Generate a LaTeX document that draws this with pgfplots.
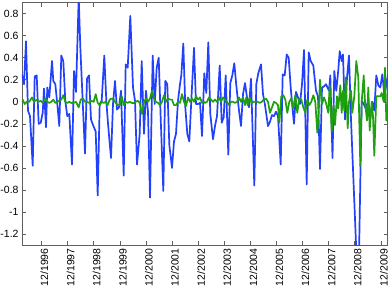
\documentclass[border=0pt]{standalone}
\usepackage{fontspec}
\setmainfont{Liberation Sans}
\usepackage{pgfplots}
\pgfplotsset{compat=1.18}
\definecolor{mblue}{RGB}{35,65,250}
\definecolor{mgreen}{RGB}{30,160,15}
\definecolor{axgray}{RGB}{95,95,95}
\begin{document}
\begin{tikzpicture}
\begin{axis}[name=ax, scale only axis, width=365.7bp, height=242.3bp,
  xmin=22, xmax=387.7, ymin=-1.3, ymax=0.9,
  axis line style={axgray, line width=0.8bp},
  tick style={axgray, line width=0.6bp},
  tick align=inside, major tick length=4bp,
  xtick={41.5,67.6,93.7,119.8,145.9,172.0,198.1,224.2,250.3,276.4,302.5,328.6,354.7,380.8},
  xticklabels={12/1996,12/1997,12/1998,12/1999,12/2000,12/2001,12/2002,12/2003,12/2004,12/2005,12/2006,12/2007,12/2008,12/2009},
  xticklabel style={rotate=90, anchor=east, yshift=-3bp},
  ytick={-1.2,-1,-0.8,-0.6,-0.4,-0.2,0,0.2,0.4,0.6,0.8},
  yticklabels={-1.2,-1,-0.8,-0.6,-0.4,-0.2,0,0.2,0.4,0.6,0.8},
  tick label style={font=\fontsize{10.5}{12}\selectfont},
  /pgf/number format/assume math mode=true,
]
\addplot[mblue, line width=1.7bp, line join=round, mark=none] coordinates {
(22,0.25)(24,0.16)(26,0.55)(28,-0.08)(30,-0.13)(32.7,-0.58)(34.7,0.23)(36.7,0.24)(38.7,-0.2)(40.7,-0.19)
(42.7,-0.1)(44,0.12)(46,-0.23)(47.3,0.13)(49.3,0.04)(52,0.37)(53.3,0.19)(55.3,0.16)(57.3,-0.02)(59.3,-0.22)
(61.3,0.42)(63.3,0.37)(65.3,0.01)(67.3,-0.13)(69.3,-0.11)(72,-0.57)(74,0.28)(76,0.09)(78.7,0.95)(80.3,0.5)
(85,-0.47)(87,0.21)(89,0.24)(91,-0.16)(93,-0.21)(95.7,-0.27)(97.7,-0.85)(99.7,-0.02)(101.7,0.01)(104.3,0.42)
(106.3,0.01)(108.3,-0.23)(111,-0.51)(113,-0.02)(115,0.19)(117,-0.07)(119,-0.05)(121,0.1)(123.7,-0.67)(125.7,0.34)
(127.7,0.31)(130.3,0.78)(133,0.13)(135,0.01)(137,-0.57)(139.7,-0.29)(141.7,0.37)(144,-0.29)(146,0.1)(148,-0.09)
(150,-0.87)(152.7,0.42)(154.7,-0.02)(156.7,0.31)(158.7,0.4)(160.7,-0.15)(163.3,-0.81)(165.3,0.19)(167.3,0.16)(169.3,-0.39)
(172,-0.6)(174,-0.36)(176,-0.29)(178,0.01)(180,0.16)(181.3,0.24)(183.3,0.53)(185.3,-0.05)(187.3,-0.29)(189.3,-0.36)
(191.3,0.01)(194,0.49)(196,-0.02)(198,-0.02)(200,-0.01)(202,-0.31)(204.3,0.26)(206.3,0.08)(208.3,0.54)(210.3,-0.11)
(213,-0.34)(215,-0.22)(217,-0.13)(219.7,0.33)(221.7,-0.19)(223.7,-0.14)(225.7,0.24)(228.3,-0.48)(230.3,0.17)(232.3,0.24)
(234.3,0.35)(236.3,0.15)(239,-0.08)(241,-0.22)(243,0.07)(245,0.17)(247,0.04)(249,-0.05)(251,0.21)(254.3,-0.76)
(256.3,0.16)(258.3,0.26)(261,0.34)(263,0.07)(265,-0.03)(268,-0.22)(270,-0.18)(272,-0.12)(274,-0.13)(276,-0.09)
(278,-0.13)(280.7,-0.57)(282.7,0.25)(284.7,0.24)(286.7,0.43)(288.7,0.4)(290.7,0.13)(292.7,-0.08)(294,-0.2)(296,0.09)
(298,0.04)(300,-0.02)(302,0.16)(304,0.47)(306.7,-0.75)(308.7,0.45)(310.7,0.37)(313.3,0.33)(316,0.1)(318,0.05)
(320,-0.61)(322,0.13)(324,0.14)(326,0.16)(329,0.1)(330.3,0.24)(332.5,-0.51)(334.3,0.28)(336.3,0.1)(338.3,0.29)
(339.7,0.46)(341.7,0.37)(343,0.43)(345,-0.16)(347,0.22)(349,0.42)(351,-0.16)(356.5,-1.4)(359,-1.4)(361.7,0.01)
(363.7,-0.02)(365.7,-0.06)(368.3,0.01)(370.3,-0.15)(372.3,0.0)(374.3,-0.08)(376.3,0.24)(378.3,0.15)(380.3,0.13)(382.3,0.25)
(384.3,0.07)(386.3,0.15)(388,0.25)
};
\addplot[mgreen, line width=1.7bp, line join=round, mark=none] coordinates {
(22,0.0)(22.7,0.02)(24.7,-0.02)(26.7,0.0)(29.3,0.0)(32,0.04)(34,0.0)(36.7,0.02)(38.7,0.0)(40.7,0.01)
(42.7,-0.01)(45.3,0.03)(47.3,0.0)(49.3,-0.01)(51.3,0.0)(53.3,0.02)(55.3,-0.01)(57.3,0.0)(59.3,0.01)(61.3,0.02)
(63.3,0.06)(65.3,0.0)(67.3,-0.01)(69.3,0.0)(71.3,-0.01)(73.3,-0.01)(76,0.0)(78.7,-0.05)(80.7,0.02)(83,0.03)
(85,0.0)(87,0.0)(89,-0.01)(91,0.01)(93.7,0.0)(95.7,0.07)(97.7,-0.01)(99.7,-0.03)(101.7,0.0)(103.7,-0.01)
(105.7,0.0)(107.7,-0.03)(109.7,0.02)(111.7,0.03)(113.7,0.02)(115.7,-0.01)(117.7,-0.03)(119.7,-0.03)(121.7,0.05)(123.7,-0.03)
(125.7,0.0)(127.7,-0.01)(129.7,0.0)(131.7,-0.01)(133.7,-0.01)(135.7,0.0)(137.7,0.01)(139.7,-0.01)(142,-0.11)(144,0.0)
(146,0.03)(148,0.0)(150,0.03)(152,0.1)(154,0.03)(156,0.0)(158,-0.01)(160,-0.03)(162,0.0)(164,0.06)
(166,0.0)(168,0.03)(170,0.02)(172,0.02)(174,-0.03)(176,-0.03)(178,0.0)(180,-0.01)(182,0.07)(184,0.0)
(186,-0.04)(188,0.04)(190,0.0)(192,0.03)(194,0.0)(196,0.05)(198,0.02)(200,0.04)(202,-0.01)(204,0.0)
(205,-0.01)(207,0.0)(209,0.04)(211,0.02)(213,0.0)(215,0.02)(217,0.0)(219,0.04)(221,0.0)(223,0.04)
(225,0.02)(227,0.0)(229,-0.03)(231,0.0)(233,0.0)(235,-0.01)(237,0.0)(239,0.04)(241,0.0)(243,0.04)
(245,-0.03)(246.3,0.04)(247.7,-0.03)(249.7,0.04)(251.7,-0.01)(253.7,0.0)(255.7,0.0)(257.7,0.0)(259.7,-0.01)(261.7,0.0)
(263.7,0.02)(266,0.03)(268,0.0)(270,-0.1)(272,-0.05)(274,0.0)(276,-0.01)(278,-0.03)(279.3,-0.19)(281.3,0.05)
(283.3,0.06)(285.3,0.02)(287.3,-0.1)(289.3,0.0)(291.3,0.03)(293.3,-0.06)(295.3,0.06)(297.3,-0.1)(299.3,0.03)(301.3,0.02)
(303.3,-0.05)(305.3,-0.1)(307.3,0.02)(309.3,-0.03)(311.3,0.0)(313.3,0.06)(315.3,0.0)(317.3,-0.28)(318.7,-0.1)(320,0.2)
(322,-0.02)(324,0.04)(326,-0.01)(327,-0.05)(328.3,-0.1)(329.7,0.15)(331.7,-0.27)(333.7,-0.03)(335,-0.21)(337,0.05)
(338.3,-0.06)(340.3,0.15)(341.7,-0.1)(343,0.1)(344.3,-0.08)(345.7,0.22)(347.7,-0.24)(349,0.0)(351,0.1)(352.3,-0.1)
(354.3,0.05)(356.3,0.37)(358.3,0.22)(360.3,-0.58)(361.7,0.0)(363.7,0.24)(365,0.0)(367,-0.17)(368.3,0.13)(369.7,-0.26)
(371.7,0.0)(373,-0.13)(374.3,-0.49)(376.3,0.05)(378.3,0.05)(380.3,0.05)(381.7,0.08)(383.7,0.0)(385,0.31)(386.3,-0.17)
(388,-0.02)
};
\end{axis}
\pgfresetboundingbox
\path[use as bounding box] ([shift={(-22bp,-46bp)}]ax.south west) rectangle ([shift={(2.3bp,2.7bp)}]ax.north east);
\end{tikzpicture}
\end{document}
